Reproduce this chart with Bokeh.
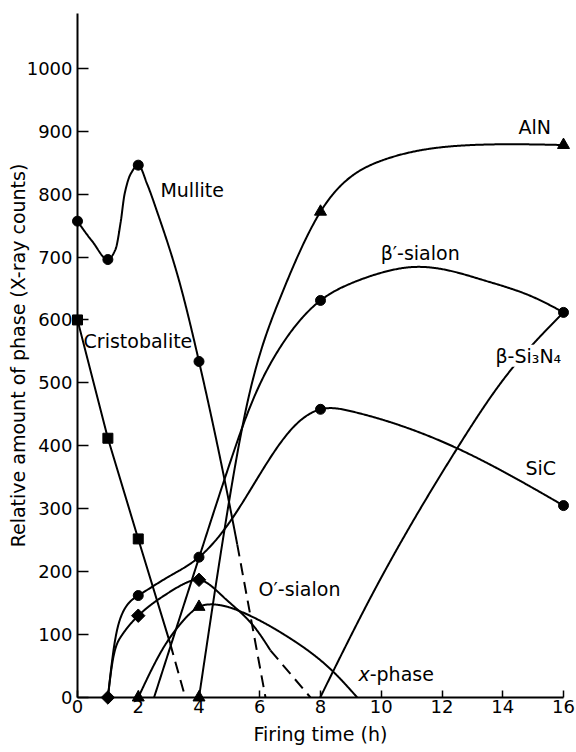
import numpy as np
from bokeh.plotting import figure
from bokeh.models import Range1d, FixedTicker, Label
from bokeh.embed import file_html
from bokeh.resources import INLINE

# ---------------- data ----------------
X_TICKS = [0, 2, 4, 6, 8, 10, 12, 14, 16]
Y_TICKS = [0, 100, 200, 300, 400, 500, 600, 700, 800, 900, 1000]

# measured points (markers)
mullite_t = [0, 1, 2, 4]
mullite_v = [757, 696, 846, 534]
cristo_t = [0, 1, 2]
cristo_v = [600, 412, 252]
sic_t = [2, 4, 8, 16]
sic_v = [162, 223, 458, 305]
osialon_t = [1, 2, 4]
osialon_v = [0, 130, 187]
xphase_t = [2, 4]
xphase_v = [0, 144]
aln_t = [4, 8, 16]
aln_v = [0, 772, 878]
bsialon_t = [8, 16]
bsialon_v = [631, 612]

# traced curve paths
mullite_curve_t = [0, 0.5, 1, 1.25, 1.42, 1.55, 1.75, 2, 2.3, 2.6, 3.3, 4, 5.26]
mullite_curve_v = [757, 724, 696, 712, 755, 800, 832, 846, 815, 775, 670, 534, 243]
mullite_dash_t = [5.26, 6.19]
mullite_dash_v = [243, 0]

cristo_curve_t = [0, 1, 2, 3.05]
cristo_curve_v = [600, 412, 252, 86]
cristo_dash_t = [3.05, 3.55]
cristo_dash_v = [86, 0]

sic_curve_t = [1, 1.2, 1.52, 2, 3, 4, 5.1, 7, 8, 9, 12.5, 16]
sic_curve_v = [0, 80, 138, 162, 192, 223, 285, 424, 458, 455, 396, 305]

osialon_curve_t = [1, 1.14, 1.42, 2, 2.95, 3.61, 4, 4.82, 5.92, 6.35]
osialon_curve_v = [0, 53, 96, 130, 165, 183, 187, 159, 106, 75]
osialon_dash_t = [6.35, 7.67]
osialon_dash_v = [75, 0]

xphase_curve_t = [2, 2.84, 3.39, 4, 4.4, 5.5, 7, 8.44, 9.21]
xphase_curve_v = [0, 80, 117, 144, 148, 134, 94, 40, 0]

aln_curve_t = [4, 4.9, 5.6, 6.68, 8, 10, 13, 16]
aln_curve_v = [0, 285, 470, 636, 772, 853, 878, 878]

bsialon_curve_t = [2.52, 4, 5.0, 5.75, 6.68, 8, 9, 10.08, 11, 12.28, 13.38, 15.02, 16]
bsialon_curve_v = [0, 222, 370, 470, 557, 631, 658, 676, 684, 678, 663, 636, 612]

bsi3n4_curve_t = [7.99, 9.65, 12.5, 14, 16]
bsi3n4_curve_v = [0, 159, 396, 504, 612]


def pchip(xk, yk, n=400):
    x = np.asarray(xk, float)
    y = np.asarray(yk, float)
    h = np.diff(x)
    d = np.diff(y) / h
    m = np.zeros_like(x)
    for k in range(1, len(x) - 1):
        if d[k - 1] * d[k] <= 0:
            m[k] = 0.0
        else:
            w1 = 2 * h[k] + h[k - 1]
            w2 = h[k] + 2 * h[k - 1]
            m[k] = (w1 + w2) / (w1 / d[k - 1] + w2 / d[k])

    def end(h0, h1, d0, d1):
        mm = ((2 * h0 + h1) * d0 - h0 * d1) / (h0 + h1)
        if np.sign(mm) != np.sign(d0):
            mm = 0.0
        elif np.sign(d0) != np.sign(d1) and abs(mm) > abs(3 * d0):
            mm = 3 * d0
        return mm

    m[0] = end(h[0], h[1], d[0], d[1])
    m[-1] = end(h[-1], h[-2], d[-1], d[-2])
    xs = np.linspace(x[0], x[-1], n)
    idx = np.clip(np.searchsorted(x, xs) - 1, 0, len(x) - 2)
    t = (xs - x[idx]) / h[idx]
    h00 = 2 * t**3 - 3 * t**2 + 1
    h10 = t**3 - 2 * t**2 + t
    h01 = -2 * t**3 + 3 * t**2
    h11 = t**3 - t**2
    ys = h00 * y[idx] + h10 * h[idx] * m[idx] + h01 * y[idx + 1] + h11 * h[idx] * m[idx + 1]
    return xs, ys


def natural(xk, yk, n=400):
    x = np.asarray(xk, float)
    y = np.asarray(yk, float)
    N = len(x)
    h = np.diff(x)
    A = np.zeros((N, N))
    r = np.zeros(N)
    A[0, 0] = 1.0
    A[-1, -1] = 1.0
    for i in range(1, N - 1):
        A[i, i - 1] = h[i - 1]
        A[i, i] = 2 * (h[i - 1] + h[i])
        A[i, i + 1] = h[i]
        r[i] = 6 * ((y[i + 1] - y[i]) / h[i] - (y[i] - y[i - 1]) / h[i - 1])
    M = np.linalg.solve(A, r)
    xs = np.linspace(x[0], x[-1], n)
    i = np.clip(np.searchsorted(x, xs) - 1, 0, N - 2)
    hi = h[i]
    a = x[i + 1] - xs
    b = xs - x[i]
    ys = (M[i] * a**3 + M[i + 1] * b**3) / (6 * hi) \
        + (y[i] / hi - M[i] * hi / 6) * a + (y[i + 1] / hi - M[i + 1] * hi / 6) * b
    return xs, ys


FONT = "DejaVu Sans"
LW = 2

p = figure(width=576, height=752, output_backend="svg", toolbar_location=None,
           x_range=Range1d(0, 16), y_range=Range1d(0, 1087),
           min_border_left=77, min_border_right=13, min_border_top=13, min_border_bottom=55)
p.outline_line_color = None
p.grid.visible = False
p.background_fill_color = "white"
p.border_fill_color = "white"

for ax in (p.xaxis[0], p.yaxis[0]):
    ax.axis_line_width = 2
    ax.axis_line_color = "black"
    ax.major_tick_line_color = "black"
    ax.major_tick_line_width = 1.5
    ax.minor_tick_line_color = None
    ax.major_tick_out = 0
    ax.major_label_text_font = FONT
    ax.major_label_text_font_size = "18px"
    ax.major_label_text_color = "black"
    ax.axis_label_text_font = FONT
    ax.axis_label_text_font_size = "19px"
    ax.axis_label_text_font_style = "normal"
    ax.axis_label_text_color = "black"

p.xaxis.ticker = FixedTicker(ticks=X_TICKS)
p.yaxis.ticker = FixedTicker(ticks=Y_TICKS)
p.xaxis.major_tick_in = 7
p.yaxis.major_tick_in = 11
p.xaxis.major_label_standoff = 2
p.yaxis.major_label_standoff = 5
p.xaxis.axis_label = "Firing time (h)"
p.yaxis.axis_label = "Relative amount of phase (X-ray counts)"
p.xaxis.axis_label_standoff = 7
p.yaxis.axis_label_standoff = -5

# smooth curves
xs, ys = pchip(mullite_curve_t, mullite_curve_v)
p.line(xs, ys, line_color="black", line_width=LW)
for ct, cv in [(sic_curve_t, sic_curve_v), (osialon_curve_t, osialon_curve_v),
               (xphase_curve_t, xphase_curve_v), (aln_curve_t, aln_curve_v),
               (bsialon_curve_t, bsialon_curve_v), (bsi3n4_curve_t, bsi3n4_curve_v)]:
    xs, ys = natural(ct, cv)
    p.line(xs, ys, line_color="black", line_width=LW)

# straight cristobalite
p.line(cristo_curve_t, cristo_curve_v, line_color="black", line_width=LW)

# dashed ends
for dt, dv in [(mullite_dash_t, mullite_dash_v), (cristo_dash_t, cristo_dash_v),
               (osialon_dash_t, osialon_dash_v)]:
    p.line(dt, dv, line_color="black", line_width=LW, line_dash="12 7")

# markers
p.scatter(mullite_t, mullite_v, marker="circle", size=10, color="black", level="overlay")
p.scatter(sic_t, sic_v, marker="circle", size=10, color="black", level="overlay")
p.scatter(bsialon_t, bsialon_v, marker="circle", size=10, color="black", level="overlay")
p.scatter(cristo_t, cristo_v, marker="square", size=10, color="black", level="overlay")
p.scatter(osialon_t, osialon_v, marker="square", angle=np.pi / 4, size=9.5, color="black", level="overlay")
p.scatter(xphase_t, xphase_v, marker="triangle", size=12, color="black", level="overlay")
p.scatter(aln_t, aln_v, marker="triangle", size=12, color="black", level="overlay")


def lab(x, y, text, **kw):
    opts = dict(x=x, y=y, text=text, text_font=FONT, text_font_size="19px",
                text_color="black", text_baseline="middle", text_align="left")
    opts.update(kw)
    p.add_layout(Label(**opts))


lab(2.73, 806, "Mullite")
lab(0.2, 566, "Cristobalite")
lab(14.52, 906, "AlN")
lab(9.98, 707, "β′-sialon")
lab(13.76, 543, "β-Si₃N₄", background_fill_color="white")
lab(14.75, 365, "SiC")
lab(5.96, 173, "O′-sialon")
lab(9.25, 37, "x", text_font_style="italic")
lab(9.62, 37, "-phase")

open("out.html", "w").write(file_html(p, INLINE))
